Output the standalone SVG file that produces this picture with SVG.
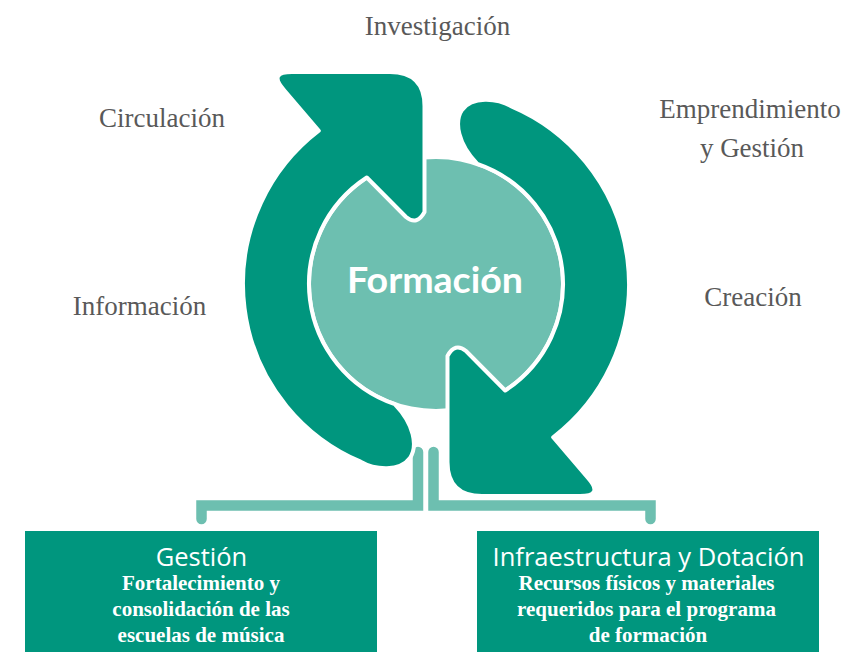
<svg xmlns="http://www.w3.org/2000/svg" xmlns:xlink="http://www.w3.org/1999/xlink" width="850" height="652" viewBox="0 0 850 652">
  <style>
    .lbl { font-family: "Liberation Serif", "Times New Roman", serif; font-size: 27px; fill: #595959; text-anchor: middle; }
    .dark { fill: #00967e; }
    .arrow { fill: #00967e; stroke: #ffffff; stroke-width: 4; stroke-linejoin: round; }
    .conn { fill: none; stroke: #6dbfb0; stroke-width: 10.5; stroke-linecap: round; stroke-linejoin: miter; }
    .title { font-family: "Open Sans", "Liberation Sans", sans-serif; font-size: 25.5px; fill: #ffffff; text-anchor: middle; }
    .sub { font-family: "Liberation Serif", "Times New Roman", serif; font-weight: bold; font-size: 21px; fill: #ffffff; text-anchor: middle; }
  </style>
  <defs>
    <path id="arrowShape" d="M 394.7,404.1 A 127 127 0 0 1 366.8,177.5 L 406,217 Q 417,226 424.5,212 L 424.5,106 Q 424.5,72 390,72 L 292,72 Q 268,72 284,90 L 318.8,130.7 A 193 193 0 0 0 360.6,461.7 C 375,470 400,472 410,458 C 418,446 414,424 394.7,404.1 Z"/>
  </defs>
  <rect width="850" height="652" fill="#ffffff"/>

  <g id="labels">
    <text class="lbl" x="437.5" y="35">Investigación</text>
    <text class="lbl" x="162" y="127">Circulación</text>
    <text class="lbl" x="750" y="118">Emprendimiento</text>
    <text class="lbl" x="752" y="157">y Gestión</text>
    <text class="lbl" x="139.5" y="315">Información</text>
    <text class="lbl" x="753" y="306">Creación</text>
  </g>

  <g id="connectors">
    <path class="conn" d="M 418,452 L 418,505.5 L 201.5,505.5 L 201.5,519"/>
    <path class="conn" d="M 433.5,452 L 433.5,505.5 L 650.5,505.5 L 650.5,519"/>
  </g>

  <g id="formacion">
    <circle cx="436" cy="284" r="125" fill="#6dbfb0"/>
  </g>
  <g id="arrow-left">
    <use xlink:href="#arrowShape" href="#arrowShape" class="arrow"/>
  </g>
  <g id="arrow-right">
    <use xlink:href="#arrowShape" href="#arrowShape" class="arrow" transform="rotate(180 436 284)"/>
  </g>
  <g id="formacion-label">
    <text x="435" y="293" font-family="Lato, 'Open Sans', sans-serif" font-weight="bold" font-size="37" fill="#ffffff" text-anchor="middle" textLength="176" lengthAdjust="spacingAndGlyphs">Formación</text>
  </g>

  <g id="gestion">
    <rect class="dark" x="25" y="531" width="352" height="121"/>
    <text class="title" x="201.5" y="566">Gestión</text>
    <text class="sub" x="201" y="590">Fortalecimiento y</text>
    <text class="sub" x="201" y="616">consolidación de las</text>
    <text class="sub" x="201" y="642">escuelas de música</text>
  </g>

  <g id="infraestructura">
    <rect class="dark" x="477" y="531" width="342" height="121"/>
    <text class="title" x="648.5" y="566">Infraestructura y Dotación</text>
    <text class="sub" x="646.5" y="590">Recursos físicos y materiales</text>
    <text class="sub" x="646.5" y="616">requeridos para el programa</text>
    <text class="sub" x="648" y="642">de formación</text>
  </g>
</svg>
